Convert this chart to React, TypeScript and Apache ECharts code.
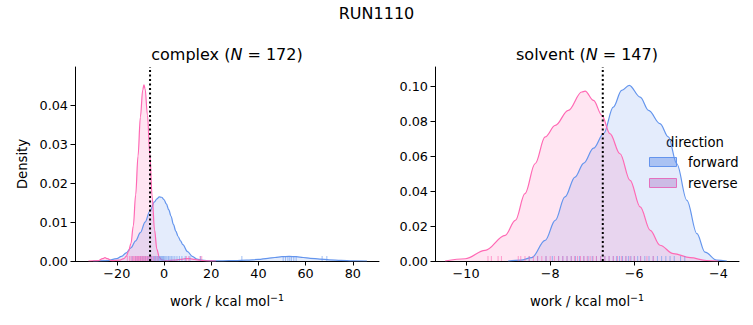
import React, { useEffect, useRef } from "react";
import * as echarts from "echarts";

// ---- data ----
const complexForwardX = [-30, -24, -20, -18, -16, -14, -12, -10, -8, -6, -4, -3, -2, -1, 0, 1, 2, 3, 4, 5, 6, 7, 8, 10, 12, 14, 16, 20, 25, 30, 35, 40, 44, 47, 50, 53, 56, 59, 62, 66, 70, 75, 80, 86];
const complexForwardY = [0, 0.0001, 0.0006, 0.0012, 0.0021, 0.0034, 0.0052, 0.0073, 0.0100, 0.0128, 0.0152, 0.0160, 0.0165, 0.0164, 0.0158, 0.0147, 0.0132, 0.0115, 0.0094, 0.0077, 0.0063, 0.0052, 0.0042, 0.0024, 0.0012, 0.0005, 0.0002, 0.00005, 0.00005, 0.0001, 0.0002, 0.0004, 0.0007, 0.0009, 0.0011, 0.0012, 0.0011, 0.0009, 0.0007, 0.0005, 0.0003, 0.00015, 0.00005, 0];
const complexReverseX = [-32, -28, -26, -25, -24, -22, -19, -17, -16, -15, -14, -13, -12, -11, -10, -9, -8.5, -8, -7, -6, -5, -4, -3, -2, -1, 1, 4, 7, 9, 11, 13, 15, 18, 22];
const complexReverseY = [0, 0.0001, 0.0006, 0.00085, 0.0006, 0.0001, 0.0002, 0.0006, 0.0012, 0.0025, 0.0045, 0.0090, 0.0170, 0.0270, 0.0370, 0.0440, 0.0453, 0.0443, 0.0375, 0.0275, 0.0165, 0.0080, 0.0030, 0.0010, 0.0003, 0.0001, 0.0002, 0.0004, 0.0006, 0.0006, 0.0004, 0.0002, 0.00005, 0];
const solventForwardX = [-9.0, -8.7, -8.44, -8.12, -7.88, -7.65, -7.41, -7.2, -6.97, -6.73, -6.5, -6.3, -6.12, -5.86, -5.66, -5.39, -5.19, -4.99, -4.75, -4.51, -4.32, -4.04, -3.8];
const solventForwardY = [0, 0.0005, 0.0019, 0.0118, 0.0232, 0.0366, 0.048, 0.056, 0.0645, 0.0728, 0.088, 0.0975, 0.1004, 0.0937, 0.0861, 0.0785, 0.0709, 0.0556, 0.0347, 0.0156, 0.0051, 0.0005, 0];
const solventReverseX = [-10.5, -10.02, -9.55, -9.07, -8.83, -8.6, -8.36, -8.12, -7.88, -7.57, -7.25, -7.17, -6.97, -6.77, -6.58, -6.34, -6.1, -5.86, -5.62, -5.39, -5.07, -4.67, -4.28, -4.0];
const solventReverseY = [0, 0.0013, 0.0061, 0.0147, 0.0232, 0.0385, 0.0556, 0.0709, 0.0775, 0.0861, 0.0966, 0.0971, 0.0918, 0.0833, 0.0728, 0.0613, 0.0461, 0.0309, 0.0175, 0.009, 0.0042, 0.0019, 0.0003, 0];

const complexForwardRug = [-13.5, -12, -11, -10, -9.2, -8.5, -7.8, -7, -6.4, -5.8, -5.2, -4.6, -4, -3.5, -3, -2.6, -2.2, -1.8, -1.4, -1, -0.6, -0.2, 0.3, 0.8, 1.3, 1.9, 2.5, 3.1, 3.8, 4.6, 5.5, 6.5, 7.6, 9, 11, 15.5, 33, 50.5, 51.5, 52.5, 53.3, 54, 55, 56, 67, 69];
const complexReverseRug = [-15.5, -14.6, -14, -13.4, -12.9, -12.4, -12, -11.6, -11.2, -10.8, -10.4, -10, -9.6, -9.2, -8.8, -8.4, -8, -7.6, -7.2, -6.8, -6.3, -5.8, -5.2, -4.5, -3.5, -2.5, 9.5, 10.5, 15.3, 16];
const solventForwardRug = [-8.5, -8.3, -8.1, -7.95, -7.8, -7.7, -7.6, -7.5, -7.4, -7.3, -7.2, -7.1, -7.0, -6.9, -6.8, -6.7, -6.6, -6.5, -6.42, -6.35, -6.28, -6.2, -6.14, -6.08, -6.0, -5.92, -5.85, -5.75, -5.65, -5.55, -5.45, -5.35, -5.25, -5.15, -5.05, -4.9, -4.8];
const solventReverseRug = [-9.48, -9.4, -9.24, -9.16, -8.76, -8.7, -8.6, -8.5, -8.4, -8.3, -8.2, -8.1, -8.0, -7.9, -7.8, -7.7, -7.6, -7.5, -7.42, -7.35, -7.28, -7.2, -7.12, -7.05, -6.98, -6.9, -6.8, -6.7, -6.6, -6.5, -6.4, -6.3, -6.2, -6.1, -6.0, -5.85, -5.7, -5.55];

const complexLine = -5.9;
const solventLine = -6.75;

const complexXTicks = [-20, 0, 20, 40, 60, 80];
const complexYTicks = [0, 0.01, 0.02, 0.03, 0.04];
const solventXTicks = [-10, -8, -6, -4];
const solventYTicks = [0, 0.02, 0.04, 0.06, 0.08, 0.1];

const BLUE = "#6495ED";
const PINK = "#FF69B4";
const FONT = "DejaVu Sans";

const zip = (xs: number[], ys: number[]) => xs.map((x, i) => [x, ys[i]]);
const minus = (v: number) => String(v).replace("-", "\u2212");

export default function App() {
  const ref = useRef<HTMLDivElement>(null);
  useEffect(() => {
    if (!ref.current) return;
    const chart = echarts.init(ref.current, null, { renderer: "svg" });

    const xAxisBase = (grid: number, min: number, max: number, ticks: number[]) => ({
      type: "value",
      gridIndex: grid,
      min,
      max,
      splitLine: { show: false },
      axisLine: { onZero: false, lineStyle: { color: "#000", width: 1 } },
      axisTick: { show: true, length: 4.5, customValues: ticks, lineStyle: { color: "#000" } },
      axisLabel: { customValues: ticks, formatter: (v: number) => minus(v), color: "#000", fontSize: 12.8, fontFamily: FONT, margin: 6 },
      name: "work / kcal mol{s|\u22121}",
      nameLocation: "middle",
      nameGap: 31,
      nameTextStyle: {
        color: "#000", fontSize: 13.2, fontFamily: FONT, lineHeight: 18,
        rich: { s: { fontSize: 9.5, fontFamily: FONT, color: "#000", verticalAlign: "top", lineHeight: 18, padding: [0, 0, 4, 0] } },
      },
    });
    const yAxisBase = (grid: number, max: number, ticks: number[], name: string) => ({
      type: "value",
      gridIndex: grid,
      min: 0,
      max,
      splitLine: { show: false },
      axisLine: { show: true, onZero: false, lineStyle: { color: "#000", width: 1 } },
      axisTick: { show: true, length: 4.5, customValues: ticks, lineStyle: { color: "#000" } },
      axisLabel: { customValues: ticks, formatter: (v: number) => v.toFixed(2), color: "#000", fontSize: 12.8, fontFamily: FONT, margin: 7 },
      name,
      nameLocation: "middle",
      nameGap: 46,
      nameTextStyle: { color: "#000", fontSize: 13.2, fontFamily: FONT },
    });

    const kde = (name: string, idx: number, xs: number[], ys: number[], color: string, fill: string) => ({
      type: "line",
      name,
      xAxisIndex: idx,
      yAxisIndex: idx,
      data: zip(xs, ys),
      smooth: 0.35,
      smoothMonotone: "x",
      symbol: "none",
      showSymbol: false,
      lineStyle: { color, width: 1.2 },
      areaStyle: { color: fill },
      z: 2,
    });
    const rug = (idx: number, xs: number[], color: string) => ({
      type: "scatter",
      xAxisIndex: idx,
      yAxisIndex: idx,
      data: xs.map((x) => [x, 0]),
      symbol: "rect",
      symbolSize: [1, 5],
      symbolOffset: [0, -2.5],
      itemStyle: { color, opacity: 0.6 },
      silent: true,
      z: 3,
    });
    const vline = (idx: number, x: number, top: number) => ({
      type: "line",
      xAxisIndex: idx,
      yAxisIndex: idx,
      data: [[x, 0], [x, top]],
      symbol: "none",
      lineStyle: { color: "#000", width: 2, type: [2, 2.5] },
      z: 5,
    });

    const blueFill = "rgba(100,149,237,0.25)";
    const pinkFill = "rgba(255,105,180,0.25)";

    chart.setOption({
      animation: false,
      grid: [
        { left: 75, top: 67, width: 304, height: 194 },
        { left: 435, top: 67, width: 304, height: 194 },
      ],
      xAxis: [
        xAxisBase(0, -37.7, 91.1, complexXTicks),
        xAxisBase(1, -10.74, -3.51, solventXTicks),
      ],
      yAxis: [
        yAxisBase(0, 0.0499, complexYTicks, "Density"),
        yAxisBase(1, 0.1109, solventYTicks, ""),
      ],
      series: [
        kde("forward", 0, complexForwardX, complexForwardY, BLUE, blueFill),
        kde("reverse", 0, complexReverseX, complexReverseY, PINK, pinkFill),
        rug(0, complexForwardRug, BLUE),
        rug(0, complexReverseRug, PINK),
        vline(0, complexLine, 0.0499),
        kde("forward", 1, solventForwardX, solventForwardY, BLUE, blueFill),
        kde("reverse", 1, solventReverseX, solventReverseY, PINK, pinkFill),
        rug(1, solventForwardRug, BLUE),
        rug(1, solventReverseRug, PINK),
        vline(1, solventLine, 0.1109),
      ],
      graphic: [
        { type: "text", x: 376.5, y: 13, style: { text: "RUN1110", fill: "#000", font: `16px '${FONT}'`, textAlign: "center", textVerticalAlign: "middle" } },
        {
          type: "text", x: 227, y: 54,
          style: {
            text: "complex ({i|N} = 172)", fill: "#000", font: `16px '${FONT}'`, textAlign: "center", textVerticalAlign: "middle",
            rich: { i: { fontStyle: "italic", fontSize: 16, fontFamily: FONT, fill: "#000" } },
          },
        },
        {
          type: "text", x: 587, y: 54,
          style: {
            text: "solvent ({i|N} = 147)", fill: "#000", font: `16px '${FONT}'`, textAlign: "center", textVerticalAlign: "middle",
            rich: { i: { fontStyle: "italic", fontSize: 16, fontFamily: FONT, fill: "#000" } },
          },
        },
        { type: "text", x: 695, y: 142, style: { text: "direction", fill: "#000", font: `13.2px '${FONT}'`, textAlign: "center", textVerticalAlign: "middle" } },
        { type: "rect", shape: { x: 649.5, y: 157.5, width: 27, height: 9 }, style: { fill: "#b9cdf5", stroke: BLUE, lineWidth: 1 } },
        { type: "text", x: 688, y: 162, style: { text: "forward", fill: "#000", font: `13.2px '${FONT}'`, textAlign: "left", textVerticalAlign: "middle" } },
        { type: "rect", shape: { x: 649.5, y: 178.5, width: 27, height: 9 }, style: { fill: "#e2c4e4", stroke: PINK, lineWidth: 1 } },
        { type: "text", x: 688, y: 183, style: { text: "reverse", fill: "#000", font: `13.2px '${FONT}'`, textAlign: "left", textVerticalAlign: "middle" } },
      ],
    });
    return () => chart.dispose();
  }, []);
  return <div ref={ref} style={{ width: 753, height: 325, position: "absolute", left: 0, top: 0, background: "#fff" }} />;
}
